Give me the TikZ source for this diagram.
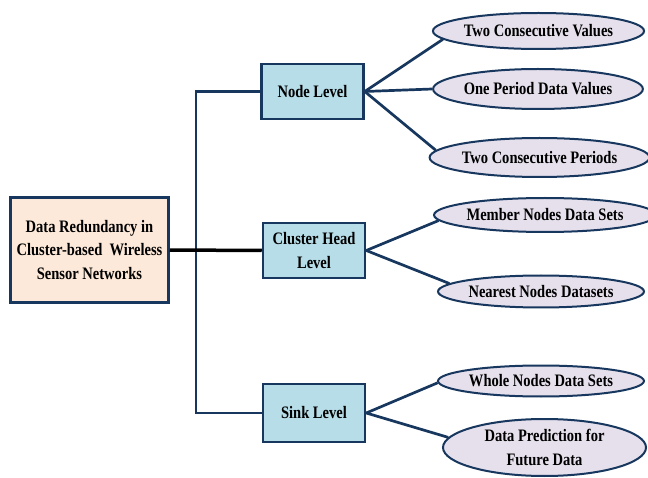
\documentclass[tikz,border=0pt]{standalone}
\usepackage{fontspec}
\setmainfont{Liberation Serif}[FakeStretch=0.83]
\usetikzlibrary{shapes.geometric}
\definecolor{navy}{HTML}{17375E}
\definecolor{peach}{HTML}{FDE9D9}
\definecolor{aqua}{HTML}{B7DDE8}
\definecolor{lav}{HTML}{E6E0EC}
\begin{document}
\begin{tikzpicture}[x=1pt,y=-1pt,
  every node/.style={font=\fontsize{17.5}{23.5}\selectfont\bfseries, align=center, inner sep=0pt},
  mainbox/.style={draw=navy, line width=2.5pt, fill=peach, minimum width=158pt, minimum height=105pt},
  levelbox/.style={draw=navy, line width=2.5pt, fill=aqua, minimum width=102pt, minimum height=55pt},
  leaf/.style={ellipse, draw=navy, line width=2pt, fill=lav},
  link/.style={draw=navy, line width=2.7pt},
  mainlink/.style={draw=black, line width=3.5pt}]
\useasboundingbox (0,0) rectangle (648,478);

\node[mainbox] (main) at (89.5,250) {Data Redundancy in\\Cluster-based\ \ Wireless\\Sensor Networks};

\node[levelbox] (nl) at (312.5,91.5) {Node Level};
\node[levelbox] (ch) at (314,250.5) {Cluster Head\\Level};
\node[levelbox, minimum height=58pt] (sk) at (314,413) {Sink Level};

\node[leaf, minimum width=205pt, minimum height=36pt] (e1) at (538.5,31) {Two Consecutive Values};
\node[leaf, minimum width=204pt, minimum height=40pt] (e2) at (538,89) {One Period Data Values};
\node[leaf, minimum width=205pt, minimum height=39pt] (e3) at (539.5,157.5) {Two Consecutive Periods};
\node[leaf, minimum width=202pt, minimum height=34pt] (e4) at (545,215) {Member Nodes Data Sets};
\node[leaf, minimum width=206pt, minimum height=32pt] (e5) at (541,291.5) {Nearest Nodes Datasets};
\node[leaf, minimum width=206pt, minimum height=31pt] (e6) at (541,381) {Whole Nodes Data Sets};
\node[leaf, minimum width=203pt, minimum height=57pt] (e7) at (544.5,447.5) {Data Prediction for\\Future Data};

\coordinate (bus) at (196,250);
\draw[link] (nl.west) -| (bus) |- (sk.west);
\draw[mainlink] (main.east) -- (ch.west);

\draw[link] (nl.east) -- (e1.185);
\draw[link] (nl.east) -- (e2.west);
\draw[link] (nl.east) -- (e3.176);
\draw[link] (ch.east) -- (e4.183);
\draw[link] (ch.east) -- (e5.175);
\draw[link] (sk.east) -- (e6.181);
\draw[link] (sk.east) -- (e7.174);
\end{tikzpicture}
\end{document}
